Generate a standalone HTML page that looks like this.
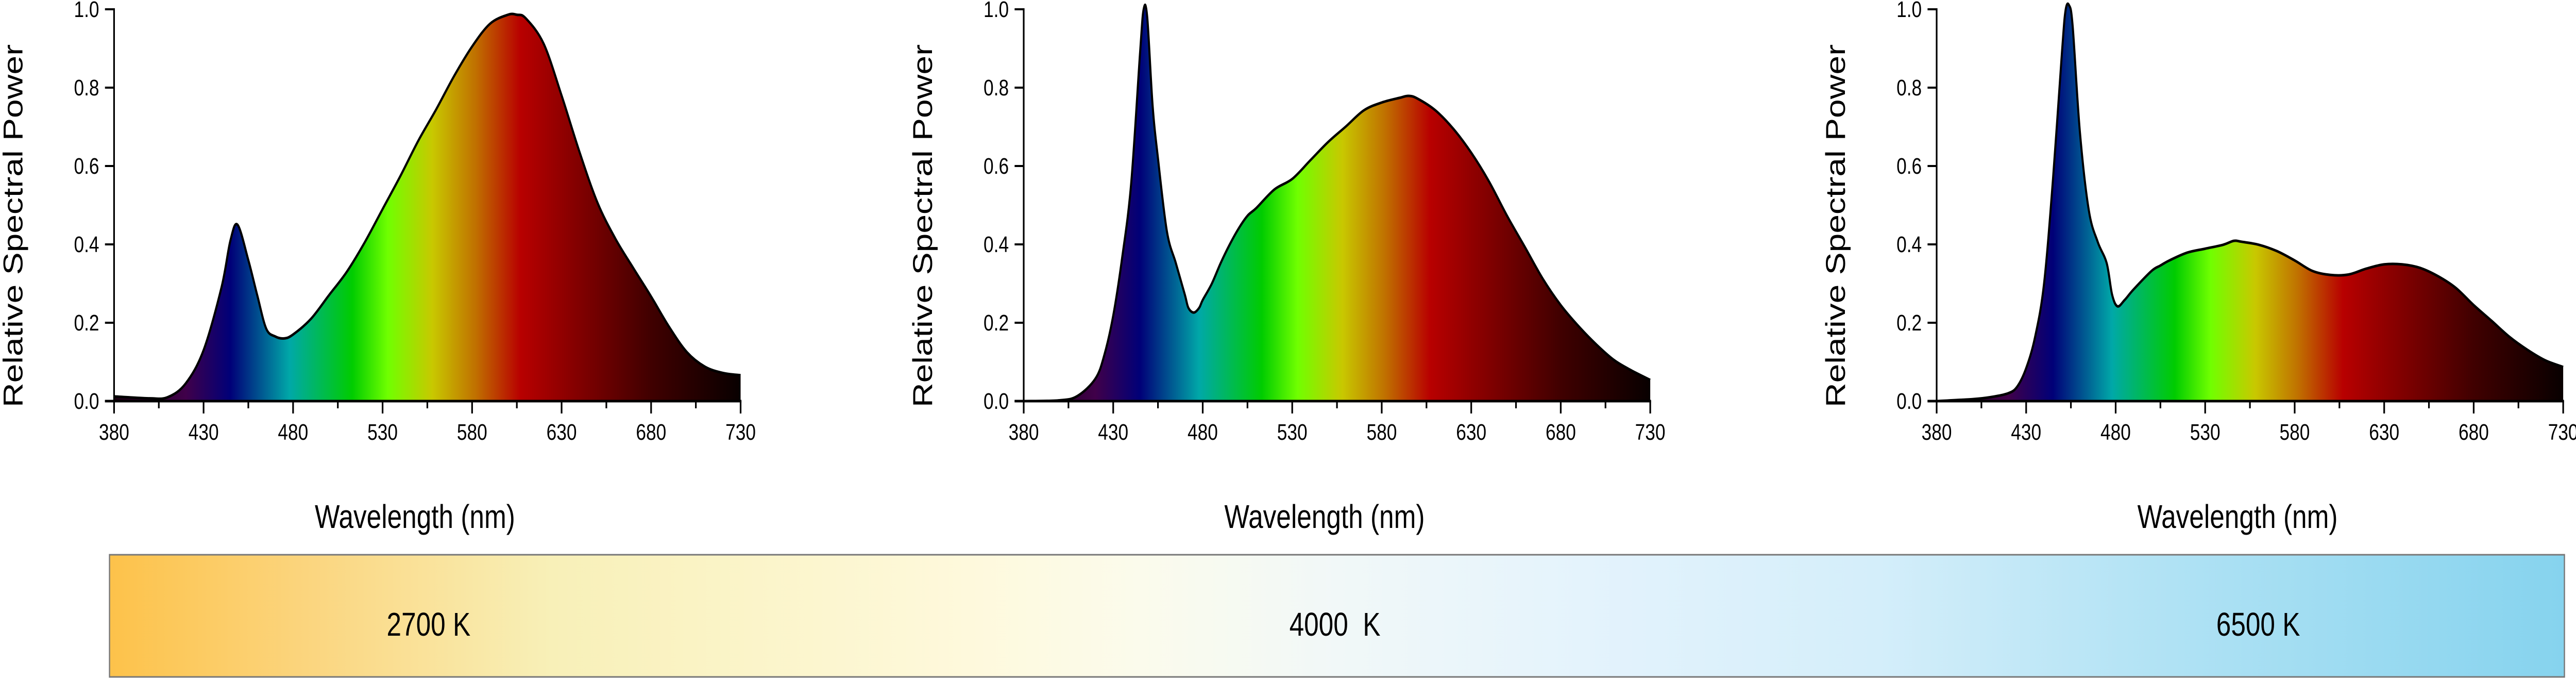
<!DOCTYPE html>
<html><head><meta charset="utf-8"><style>
html,body{margin:0;padding:0;background:#fff;width:100%;height:100%;overflow:hidden}
svg{display:block;width:100vw;height:100vh}
text{font-family:"Liberation Sans",sans-serif;fill:#000}
</style></head><body>
<svg id="root" viewBox="0 0 6233 1317" preserveAspectRatio="none" xmlns="http://www.w3.org/2000/svg">
<defs>
<linearGradient id="cct" x1="0" x2="1" y1="0" y2="0">
<stop offset="0" stop-color="#fdc24a"/><stop offset="0.08" stop-color="#fbd57e"/>
<stop offset="0.18" stop-color="#f8f0b8"/><stop offset="0.35" stop-color="#fef9dc"/>
<stop offset="0.42" stop-color="#fbfbec"/><stop offset="0.5" stop-color="#f1f8f8"/>
<stop offset="0.6" stop-color="#e4f3fc"/><stop offset="0.72" stop-color="#d4eefa"/>
<stop offset="0.84" stop-color="#b0e2f4"/><stop offset="1" stop-color="#86d3ee"/>
</linearGradient>
</defs>
<g id="charts"></g>
<g>
<rect x="265" y="1076" width="5940" height="237" fill="url(#cct)" stroke="#777" stroke-width="3"/>
<text x="1037" y="1233" font-size="64" text-anchor="middle">2700 K</text>
<text x="3230" y="1233" font-size="64" text-anchor="middle" xml:space="preserve">4000  K</text>
<text x="5464" y="1233" font-size="64" text-anchor="middle">6500 K</text>
</g>
</svg>
<script>
const wl1=[380,400,410,420,430,440,445,449,455,460,465,470,475,480,490,500,510,520,530,540,550,560,570,580,590,600,605,610,620,630,640,650,660,670,680,690,700,710,720,730];
const val1=[0.012,0.007,0.01,0.045,0.13,0.29,0.41,0.45,0.36,0.27,0.185,0.165,0.16,0.17,0.21,0.27,0.33,0.405,0.49,0.575,0.665,0.745,0.83,0.905,0.963,0.986,0.986,0.977,0.912,0.78,0.636,0.507,0.415,0.34,0.267,0.19,0.125,0.088,0.072,0.066];
const wl2=[380,400,410,420,425,430,435,440,445,447,449,452,455,460,465,470,472,475,478,480,485,490,495,500,505,510,520,530,540,550,560,570,580,590,595,600,610,620,630,640,650,660,670,680,690,700,710,720,730];
const val2=[0.0,0.002,0.013,0.057,0.117,0.218,0.366,0.554,0.889,1.0,0.98,0.755,0.62,0.433,0.352,0.272,0.238,0.226,0.238,0.258,0.299,0.352,0.399,0.44,0.473,0.493,0.54,0.567,0.614,0.661,0.701,0.742,0.762,0.774,0.779,0.772,0.742,0.695,0.634,0.56,0.473,0.393,0.312,0.245,0.191,0.144,0.104,0.077,0.054];
const wl3=[380,400,410,420,425,430,435,440,445,450,452,454,456,460,465,470,475,478,481,485,490,500,505,510,520,530,540,546,550,560,570,580,590,600,610,620,630,640,650,660,670,680,690,700,710,720,730];
const val3=[0.0,0.005,0.01,0.02,0.037,0.084,0.164,0.3,0.567,0.89,0.997,1.01,0.956,0.688,0.487,0.406,0.352,0.272,0.242,0.258,0.285,0.332,0.346,0.359,0.379,0.389,0.399,0.409,0.407,0.399,0.383,0.359,0.332,0.322,0.323,0.338,0.349,0.349,0.34,0.319,0.289,0.245,0.205,0.164,0.131,0.104,0.087];
const xTicks=[380,430,480,530,580,630,680,730];
const xMinor=[405,455,505,555,605,655,705];
const yTicks=[0,0.2,0.4,0.6,0.8,1.0];
const yTickLabels=["0.0","0.2","0.4","0.6","0.8","1.0"];
const specWl=[380,420,445,478,513,533,558,582,607,633,680,730];
const specCol=["#1a0010","#40004a","#000078","#00a8a8","#00cc00","#70ff00","#c8c800","#c07000","#b80000","#8c0000","#400000","#080000"];

const NS="http://www.w3.org/2000/svg";
const root=document.getElementById('charts');
const defs=document.querySelector('defs');
const lefts=[276,2477,4686];
const W=1516, Y0=778, Y1=18;
const series=[[wl1,val1],[wl2,val2],[wl3,val3]];
const names=["2700k","4000k","6500k"];
function mk(tag,attrs,parent){const e=document.createElementNS(NS,tag);for(const k in attrs)e.setAttribute(k,attrs[k]);parent.appendChild(e);return e;}
series.forEach((s,ci)=>{
  const x0=lefts[ci];
  const xs=w=>x0+(w-380)/350*W;
  const ys=v=>Y0-v*(Y0-Y1);
  const g=mk('g',{},root);
  
  
  const gr=mk('linearGradient',{id:'spec'+ci,gradientUnits:'userSpaceOnUse',x1:xs(380),x2:xs(730),y1:0,y2:0},defs);
  specWl.forEach((w,i)=>mk('stop',{offset:(w-380)/350,'stop-color':specCol[i]},gr));
  const pts=s[0].map((w,i)=>[xs(w),ys(s[1][i])]);
  let d='M'+pts[0][0]+','+pts[0][1];
  for(let i=0;i<pts.length-1;i++){
    const p0=pts[Math.max(0,i-1)],p1=pts[i],p2=pts[i+1],p3=pts[Math.min(pts.length-1,i+2)];
    const c1=[p1[0]+(p2[0]-p0[0])/6,p1[1]+(p2[1]-p0[1])/6];
    const c2=[p2[0]-(p3[0]-p1[0])/6,p2[1]-(p3[1]-p1[1])/6];
    d+=' C'+c1[0]+','+c1[1]+' '+c2[0]+','+c2[1]+' '+p2[0]+','+p2[1];
  }
  const area=mk('path',{d:d+' L'+xs(730)+','+Y0+' L'+xs(380)+','+Y0+' Z',fill:'url(#spec'+ci+')'},g);
  
  
  const line=mk('path',{d:d,fill:'none',stroke:'#000','stroke-width':5,'stroke-linejoin':'round'},g);
  
  
  const ax=mk('g',{},g);
  
  
  mk('line',{x1:x0,x2:x0,y1:Y1-2,y2:Y0,stroke:'#000','stroke-width':4},ax);
  mk('line',{x1:x0-22,x2:xs(730)+2,y1:Y0,y2:Y0,stroke:'#000','stroke-width':5},ax);
  xTicks.forEach(t=>{
    mk('line',{x1:xs(t),x2:xs(t),y1:Y0,y2:Y0+24,stroke:'#000','stroke-width':4},ax);
    const tx=mk('text',{x:xs(t),y:853,'font-size':44,'text-anchor':'middle'},ax);
    tx.textContent=t;
    
    
  });
  xMinor.forEach(t=>mk('line',{x1:xs(t),x2:xs(t),y1:Y0,y2:Y0+14,stroke:'#000','stroke-width':4},ax));
  yTicks.forEach((t,i)=>{
    mk('line',{x1:x0-22,x2:x0,y1:ys(t),y2:ys(t),stroke:'#000','stroke-width':4},ax);
    const ty=mk('text',{x:x0-36,y:ys(t)+15,'font-size':44,'text-anchor':'end'},ax);
    ty.textContent=yTickLabels[i];
    
    
  });
  const xt=mk('text',{x:x0+W/2-30,y:1024,'font-size':64,'text-anchor':'middle'},g);
  xt.textContent='Wavelength (nm)';
  
  
  const yt=mk('text',{x:0,y:0,'font-size':66,'text-anchor':'middle',transform:'translate('+(x0-222)+',438) rotate(-90)'},g);
  yt.textContent='Relative Spectral Power';
  
  
});
</script>
</body></html>
